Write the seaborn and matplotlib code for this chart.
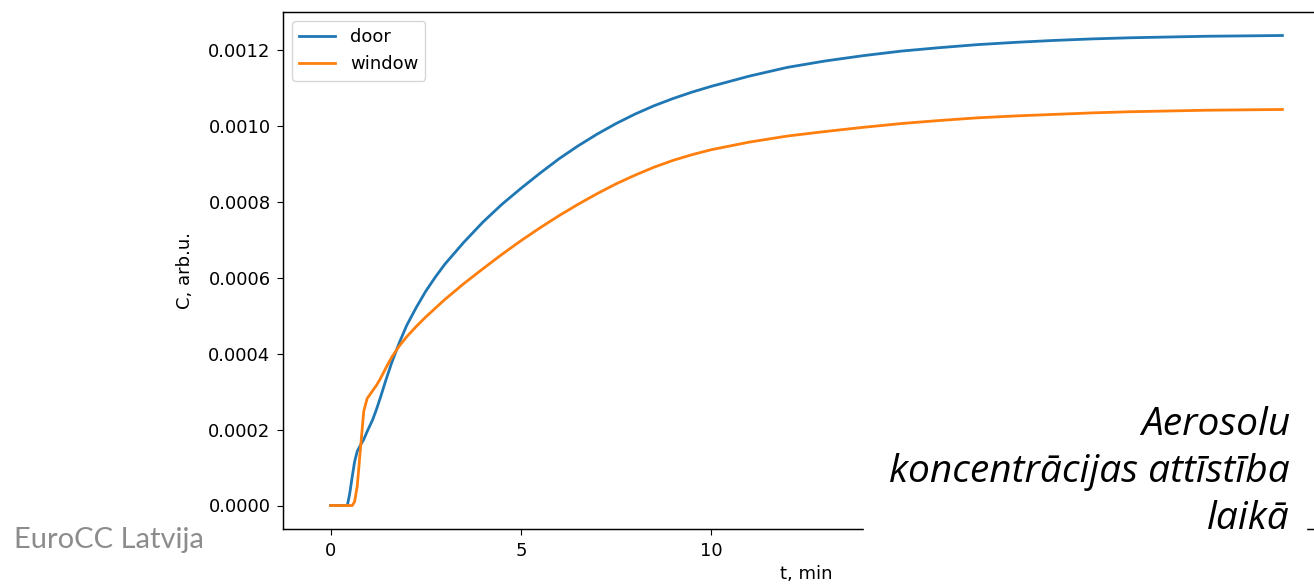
import pandas as pd
import matplotlib.pyplot as plt
import seaborn as sns
from matplotlib.patches import Rectangle

# Time (min) and concentration readings for the two ventilation cases
t_min = [0, 0.44, 0.5, 0.57, 0.63, 0.70, 0.79, 0.87, 0.96, 1.1, 1.2, 1.3, 1.45, 1.6,
         1.8, 2.0, 2.25, 2.5, 2.75, 3.0, 3.5, 4.0, 4.5, 5.0, 5.5, 6.0, 6.5, 7.0, 7.5,
         8.0, 8.5, 9.0, 9.5, 10, 11, 12, 13, 14, 15, 16, 17, 18, 19, 20, 21, 22, 23,
         24, 25]
door = [0, 0, 0.00003, 0.000077, 0.000115, 0.000143, 0.000160, 0.000174, 0.000195,
        0.000225, 0.000252, 0.000282, 0.000330, 0.000375, 0.000428, 0.000475, 0.000522,
        0.000565, 0.000602, 0.000636, 0.000694, 0.000747, 0.000794, 0.000836, 0.000876,
        0.000914, 0.000948, 0.000979, 0.001007, 0.001032, 0.001054, 0.001073, 0.001090,
        0.001105, 0.001132, 0.001155, 0.001172, 0.001186, 0.001198, 0.001207, 0.001215,
        0.001221, 0.001226, 0.001230, 0.001233, 0.001235, 0.001237, 0.001238, 0.001239]
window = [0, 0, 0, 0, 0.00001, 0.000051, 0.000156, 0.000248, 0.000282, 0.000302,
          0.000316, 0.000333, 0.000362, 0.000390, 0.000420, 0.000445, 0.000472, 0.000497,
          0.000520, 0.000543, 0.000585, 0.000624, 0.000662, 0.000698, 0.000732, 0.000764,
          0.000794, 0.000822, 0.000848, 0.000871, 0.000892, 0.000910, 0.000925, 0.000938,
          0.000958, 0.000974, 0.000986, 0.000997, 0.001007, 0.001015, 0.001022, 0.001027,
          0.001031, 0.001035, 0.001038, 0.001040, 0.001042, 0.001043, 0.001044]

df = pd.DataFrame({'t': t_min, 'door': door, 'window': window})

plt.rcParams['font.size'] = 13
plt.rcParams['axes.linewidth'] = 1.05
plt.rcParams['xtick.major.size'] = 4.5
plt.rcParams['ytick.major.size'] = 4.5
plt.rcParams['xtick.major.pad'] = 4.5
plt.rcParams['ytick.major.pad'] = 4.5

fig = plt.figure(figsize=(13.14, 5.84), dpi=100)
ax = fig.add_axes([283 / 1314, 55 / 584, 1047 / 1314, 517 / 584])

sns.lineplot(data=df, x='t', y='door', label='door', color='#1f77b4', lw=2, ax=ax)
sns.lineplot(data=df, x='t', y='window', label='window', color='#ff7f0e', lw=2, ax=ax)

ax.set_xticks([0, 5, 10, 15, 20, 25])
ax.set_xlabel('t, min')
ax.set_ylabel('C, arb.u.', labelpad=10)
ax.legend(loc='upper left')

# slide overlay: white text box and footer
fig.patches.append(Rectangle((864 / 1314, 0), 442 / 1314, 190 / 584,
                             transform=fig.transFigure, color='white', zorder=5))
fig.text(1290 / 1314, 1 - 472 / 584,
         'Aerosolu\nkoncentrācijas attīstība\nlaikā',
         ha='right', va='center', fontsize=28, style='italic', family='Open Sans',
         linespacing=1.3, zorder=6)
fig.text(14 / 1314, 1 - 540 / 584, 'EuroCC Latvija', ha='left', va='center',
         fontsize=21, color='#8c8c8c', family='Lato', zorder=6)

fig.savefig('out.png', dpi=100)
